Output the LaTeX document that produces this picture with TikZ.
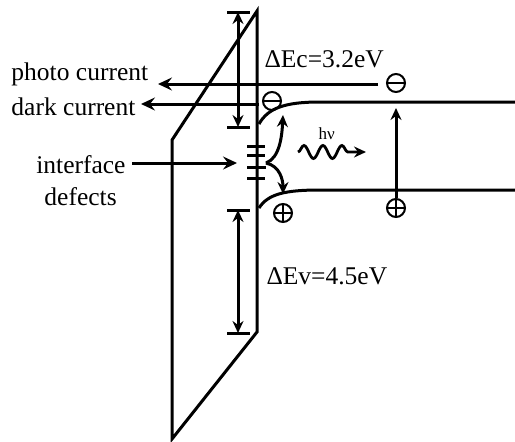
\documentclass[tikz,border=0pt]{standalone}
\usepackage{fontspec}
\setmainfont{Liberation Serif}
\usetikzlibrary{arrows.meta,decorations.pathmorphing}
\begin{document}
\begin{tikzpicture}[x=1pt,y=-1pt, line width=3pt,
  tip/.style={-{Stealth[length=14pt,width=13pt,inset=5pt]}},
  stip/.style={-{Stealth[length=12pt,width=11pt,inset=4pt]}},
  dtip/.style={{Stealth[length=12pt,width=11pt,inset=4pt]}-{Stealth[length=12pt,width=11pt,inset=4pt]}},
  lbl/.style={font=\fontsize{25.5}{28}\selectfont, inner sep=0pt, anchor=base west},
  carrier/.style={circle, draw, line width=2pt, minimum size=18pt, inner sep=0pt},
  elec/.style={carrier, path picture={\draw[line width=2pt] (path picture bounding box.west) -- (path picture bounding box.east);}},
  hole/.style={carrier, path picture={\draw[line width=2pt] (path picture bounding box.west) -- (path picture bounding box.east) (path picture bounding box.north) -- (path picture bounding box.south);}}]
\useasboundingbox (0,0) rectangle (515,442);
% oxide
\draw[line join=miter] (257,11) -- (257,332) -- (172,439) -- (172,140) -- cycle;
% gap markers
\coordinate (ct) at (238,12); \coordinate (cb) at (238,127);
\coordinate (vt) at (238,210); \coordinate (vb) at (238,333);
\draw (227,12) -- (250,12); \draw (227,127) -- (250,127);
\draw (227,210) -- (250,210); \draw (227,333) -- (250,333);
\draw[dtip] (ct) -- (cb);
\draw[dtip] (vt) -- (vb);
% bands
\draw (259,124) .. controls (268,108) and (285,102) .. (320,102) -- (515,102);
\draw (259,208) .. controls (268,194) and (285,190) .. (320,190) -- (515,190);
% carriers
\node[elec] (e1) at (272,101) {};
\node[elec] (e2) at (396,83) {};
\node[hole] (h1) at (283,213) {};
\node[hole] (h2) at (396,208) {};
% labels
\node[lbl] (pc) at (10,80) {photo current};
\node[lbl] (dc) at (10,115) {dark current};
\node[lbl, anchor=base east] (itf) at (127,173) {interface};
\node[lbl] (df) at (43,205) {defects};
\node[lbl] (dEc) at (263,67) {ΔEc=3.2eV};
\node[lbl] (dEv) at (265,284) {ΔEv=4.5eV};
\node[font=\fontsize{17}{19}\selectfont, inner sep=0pt, anchor=base west] (hv) at (317,139) {hν};
% currents
\coordinate (pcR) at (378,84); \coordinate (pcL) at (158,84);
\coordinate (dcR) at (259,104); \coordinate (dcL) at (141,104);
\draw[tip] (pcR) -- (pcL);
\draw[tip] (dcR) -- (dcL);
% defects
\draw (247,146) -- (265,146);
\draw (247,155) -- (265,155);
\draw (247,167) -- (266,167);
\draw (247,178) -- (265,178);
\coordinate (ifa) at (237,163);
\draw[tip] ([xshift=5pt]itf.east |- ifa) -- (ifa);
\coordinate (d0) at (266,163);
\coordinate (up) at (283,115); \coordinate (dn) at (283,194);
\draw[stip] (d0) .. controls (280,158) and (282,135) .. (up);
\draw[stip] (d0) .. controls (280,166) and (283,180) .. (dn);
% excitation
\draw[stip] (h2) -- (396,108);
% photon
\coordinate (w0) at (298,152); \coordinate (w1) at (366,152);
\draw[line width=2.8pt, stip, decorate, decoration={snake, segment length=19pt, amplitude=6.5pt, post length=11pt}] (w0) -- (w1);
\end{tikzpicture}
\end{document}
